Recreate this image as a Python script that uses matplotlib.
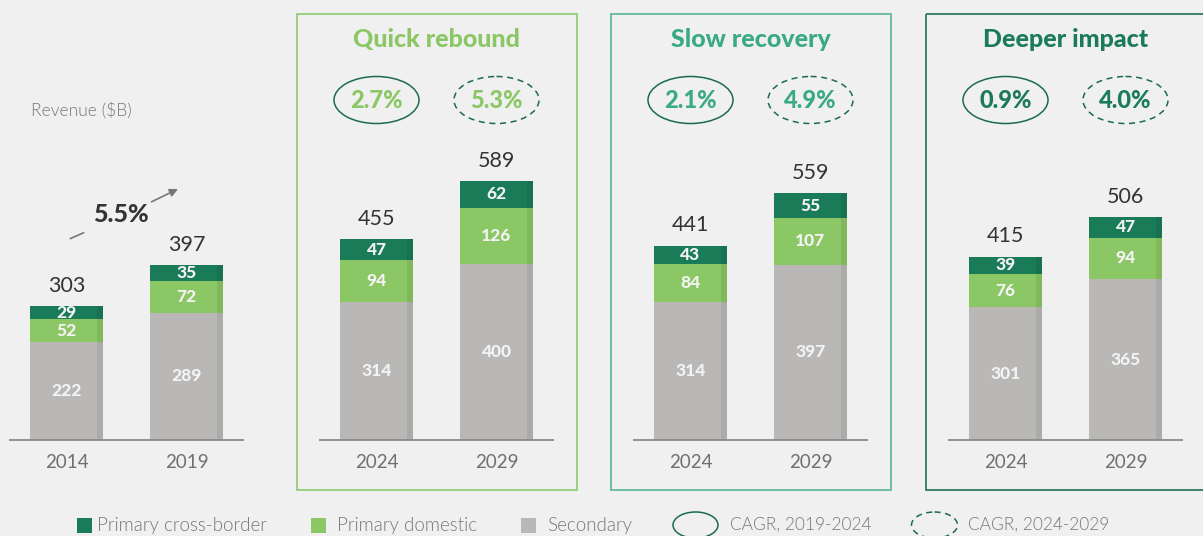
import matplotlib
matplotlib.use("Agg")
import matplotlib.pyplot as plt
from matplotlib.patches import Rectangle, Ellipse

plt.rcParams['font.family'] = ['Lato', 'DejaVu Sans']

# ---------------- data ----------------
years = ["2014", "2019", "2024", "2029", "2024", "2029", "2024", "2029"]
secondary = [222, 289, 314, 400, 314, 397, 301, 365]
primary_domestic = [52, 72, 94, 126, 84, 107, 76, 94]
primary_cross_border = [29, 35, 47, 62, 43, 55, 39, 47]
totals = [303, 397, 455, 589, 441, 559, 415, 506]

scenarios = ["Quick rebound", "Slow recovery", "Deeper impact"]
cagr_19_24 = ["2.7%", "2.1%", "0.9%"]
cagr_24_29 = ["5.3%", "4.9%", "4.0%"]
hist_cagr = "5.5%"

legend_labels = ["Primary cross-border", "Primary domestic", "Secondary",
                 "CAGR, 2019-2024", "CAGR, 2024-2029"]

# ---------------- style / layout ----------------
W, H = 1203, 536
BG = "#f0f0f0"
C_DARK = "#1a7b59"
C_LIGHT = "#8bc764"
C_GRAY = "#b9b8b6"
ELL = "#1c6b4c"
box_cols = ["#93cd7a", "#62b89b", "#2c7c5c"]
title_cols = ["#8bc764", "#3aa985", "#1a7b59"]
HEAVY = 900
LIGHT = 300

bar_x = [66.5, 186.5, 376.5, 496.5, 690.5, 810.5, 1005.5, 1125.5]
bar_w = 73
base_px = 440
ppu = 0.441  # pixels per $B

fig = plt.figure(figsize=(W / 100, H / 100), dpi=100, facecolor=BG)
ax = fig.add_axes([0, 0, 1, 1])
ax.set_facecolor(BG)
ax.set_xlim(0, W)
ax.set_ylim(-(H - base_px) / ppu, base_px / ppu)
ax.axis("off")

# bars
ax.bar(bar_x, secondary, width=bar_w, color=C_GRAY, zorder=2)
ax.bar(bar_x, primary_domestic, width=bar_w, bottom=secondary, color=C_LIGHT, zorder=2)
bot3 = [a + b for a, b in zip(secondary, primary_domestic)]
ax.bar(bar_x, primary_cross_border, width=bar_w, bottom=bot3, color=C_DARK, zorder=2)
stack_top = [a + b for a, b in zip(bot3, primary_cross_border)]

# right-side shading strip
strip = 6
sx = [x + bar_w / 2 - strip / 2 for x in bar_x]
ax.bar(sx, stack_top, width=strip, color="black", alpha=0.07, zorder=3)

# labels inside bars
for i, x in enumerate(bar_x):
    segs = [(0, secondary[i]), (secondary[i], primary_domestic[i]),
            (bot3[i], primary_cross_border[i])]
    for bot, v in segs:
        ax.text(x, bot + v / 2, str(v), ha="center", va="center",
                color="#f3f3f3", fontsize=12.5, fontweight=HEAVY, zorder=4)
    ax.annotate(str(totals[i]), (x, stack_top[i]), xytext=(0, 14.5),
                textcoords="offset points", ha="center", va="center",
                fontsize=15.5, color="#333333")
    ax.annotate(years[i], (x, 0), xytext=(0, -16.5), textcoords="offset points",
                ha="center", va="center", fontsize=13.5, color="#707070")

# baselines for each group
for g in range(4):
    l = bar_x[2 * g] - bar_w / 2 - 21
    r = bar_x[2 * g + 1] + bar_w / 2 + 21
    ax.plot([l, r], [0, 0], color="#8a8a8a", lw=1.3, zorder=5, solid_capstyle="butt")

# ---------------- overlay in pixel coordinates ----------------
ov = fig.add_axes([0, 0, 1, 1], zorder=5)
ov.set_xlim(0, W)
ov.set_ylim(H, 0)
ov.axis("off")
ov.patch.set_alpha(0)

ov.text(31, 110, "Revenue ($B)", fontsize=12.5, fontweight=LIGHT, color="#777777",
        ha="left", va="center")

# historic CAGR with arrow
ov.text(121, 215, hist_cagr, fontsize=18, fontweight=HEAVY, color="#333333",
        ha="center", va="center")
ov.plot([70.5, 83.5], [238.5, 232.8], color="#777777", lw=1.2)
ov.annotate("", xy=(178, 189), xytext=(151.5, 201.8),
            arrowprops=dict(arrowstyle="-|>", color="#777777", lw=1.2,
                            mutation_scale=12, shrinkA=0, shrinkB=0))

box_left = [297, 611, 926]
box_right = [577, 891, 1210]
for s in range(3):
    ov.add_patch(Rectangle((box_left[s], 14), box_right[s] - box_left[s], 476,
                           fill=False, edgecolor=box_cols[s], lw=1.3))
    cx = (bar_x[2 + 2 * s] + bar_x[3 + 2 * s]) / 2
    ov.text(cx, 39.5, scenarios[s], fontsize=18, fontweight=HEAVY,
            color=title_cols[s], ha="center", va="center")
    for j, (lab, ls) in enumerate([(cagr_19_24[s], "-"), (cagr_24_29[s], (0, (4, 3)))]):
        ex = bar_x[2 + 2 * s + j]
        ov.add_patch(Ellipse((ex, 100), 85, 47, fill=False, edgecolor=ELL,
                             lw=1.1, linestyle=ls))
        ov.text(ex, 101, lab, fontsize=17, fontweight=HEAVY, color=title_cols[s],
                ha="center", va="center")

# legend
ly = 525
sq = [(77, C_DARK), (311, C_LIGHT), (521, C_GRAY)]
tx = [97, 337, 547]
for k in range(3):
    ov.add_patch(Rectangle((sq[k][0], ly - 7.5), 15, 15, color=sq[k][1], lw=0))
    ov.text(tx[k], ly, legend_labels[k], fontsize=13.5, fontweight=LIGHT,
            color="#777777", ha="left", va="center")
ov.add_patch(Ellipse((695.5, ly), 45, 26, fill=False, edgecolor=ELL, lw=1.1))
ov.text(730, ly, legend_labels[3], fontsize=12.5, fontweight=LIGHT, color="#777777",
        ha="left", va="center")
ov.add_patch(Ellipse((934.5, ly), 46, 26, fill=False, edgecolor=ELL, lw=1.1,
                     linestyle=(0, (4, 3))))
ov.text(968, ly, legend_labels[4], fontsize=12.5, fontweight=LIGHT, color="#777777",
        ha="left", va="center")

fig.savefig("out.png", dpi=100, facecolor=BG)
